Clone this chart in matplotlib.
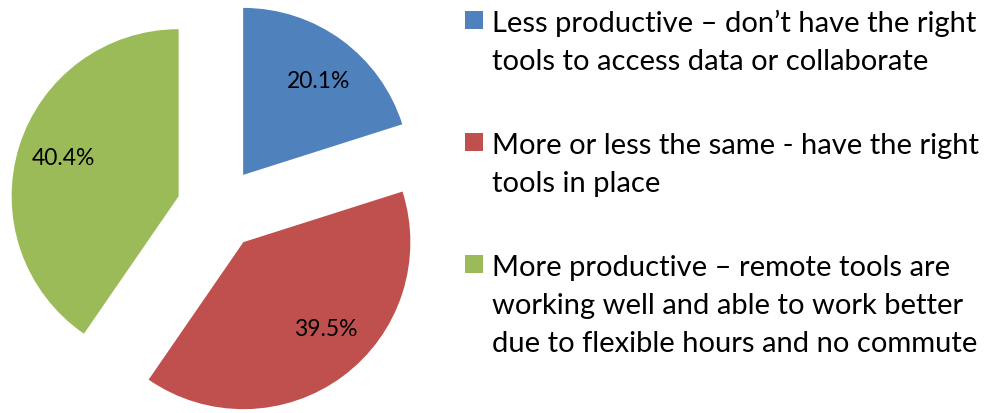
import matplotlib
matplotlib.use("Agg")
import matplotlib.pyplot as plt
from matplotlib.patches import Rectangle

plt.rcParams['font.family'] = ['Lato', 'DejaVu Sans']

# dados
labels = [
    "Less productive \u2013 don\u2019t have the right\ntools to access data or collaborate",
    "More or less the same - have the right\ntools in place",
    "More productive \u2013 remote tools are\nworking well and able to work better\ndue to flexible hours and no commute",
]
values = [20.1, 39.5, 40.4]
colors = ['#4F81BD', '#C0504D', '#9BBB59']

W, H = 1001, 414
fig = plt.figure(figsize=(W / 100, H / 100), dpi=100)
ax = fig.add_axes([0, 0, 1, 1])

# pizza explodida (coordenadas em pixels)
R = 167
wedges, texts, autotexts = ax.pie(
    values, colors=colors, startangle=90, counterclock=False,
    explode=[0.25 * R] * len(values), center=(218.5, H - 209.6), radius=R,
    autopct='%.1f%%', pctdistance=0.72,
    textprops=dict(fontsize=16.5, color='black'))

# ajuste fino dos rótulos (o Excel não os centra exatamente no ângulo médio)
nudges = [(4, -3), (11, 10), (0, 3)]
for t, (dx, dy) in zip(autotexts, nudges):
    x, y = t.get_position()
    t.set_position((x + dx, y + dy))

ax.set_xlim(0, W)
ax.set_ylim(0, H)
ax.set_aspect('equal')
ax.axis('off')

# legenda manual
x_box, x_txt = 465, 492
base0, entry_step, line_step = 31.7, 122, 38
box = 18
for i, (lab, col) in enumerate(zip(labels, colors)):
    base = base0 + i * entry_step
    ax.add_patch(Rectangle((x_box, H - base + 1.7), box, box, color=col, lw=0))
    for j, line in enumerate(lab.split('\n')):
        ax.text(x_txt, H - base - j * line_step, line, fontsize=21,
                ha='left', va='baseline', color='black')

fig.savefig('out.png', dpi=100)
